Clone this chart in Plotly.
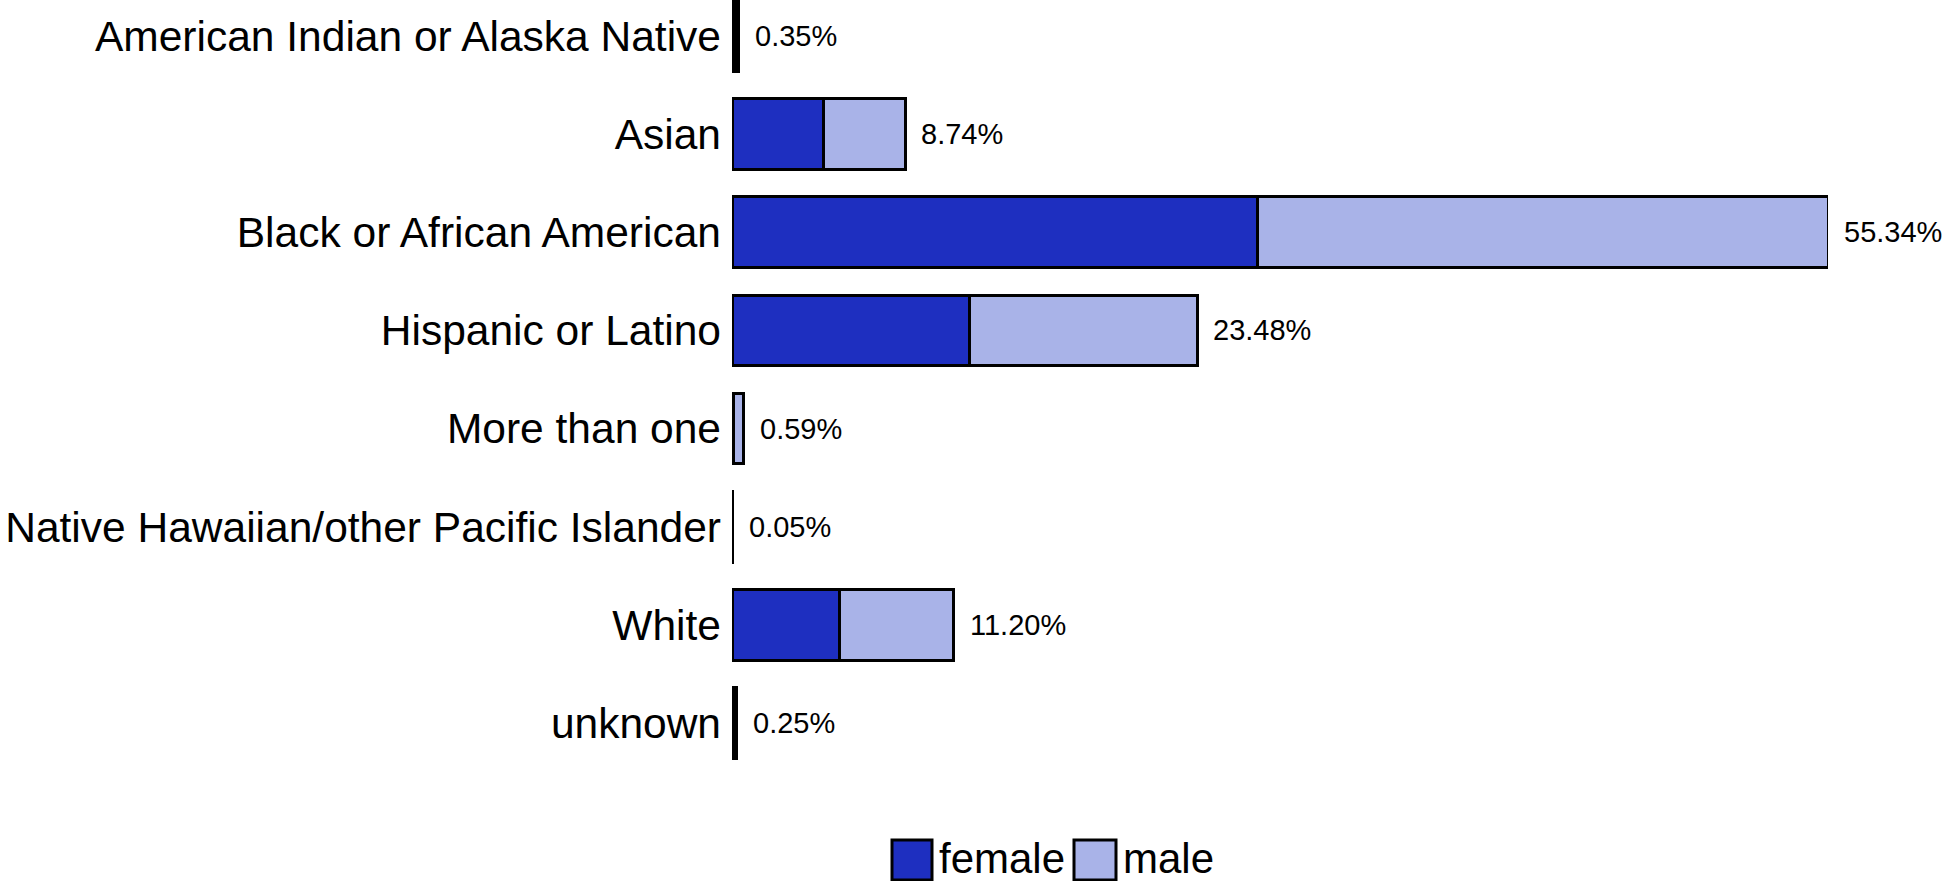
import plotly.graph_objects as go

categories = [
    "American Indian or Alaska Native",
    "Asian",
    "Black or African American",
    "Hispanic or Latino",
    "More than one",
    "Native Hawaiian/other Pacific Islander",
    "White",
    "unknown",
]
female = [0.20, 4.64, 26.51, 12.01, 0.10, 0.02, 5.45, 0.12]
male = [0.15, 4.10, 28.83, 11.47, 0.49, 0.03, 5.75, 0.13]

FEMALE_COLOR = "#1e2fc0"
MALE_COLOR = "#a9b3e8"
FONT = "Liberation Sans, Arial, sans-serif"

W, H = 1949, 881
ML, MR, MT, MB = 732, 121, 0, 109


def px_x(px):
    return (px - ML) / (W - ML - MR)


def px_y(py):
    return (H - MB - py) / (H - MT - MB)


fig = go.Figure()

fig.add_trace(
    go.Bar(
        y=categories,
        x=female,
        orientation="h",
        name="female",
        marker=dict(color=FEMALE_COLOR, line=dict(color="black", width=3)),
        showlegend=False,
    )
)

fig.add_trace(
    go.Bar(
        y=categories,
        x=male,
        orientation="h",
        name="male",
        marker=dict(color=MALE_COLOR, line=dict(color="black", width=3)),
        showlegend=False,
    )
)

# total labels at the end of each bar
for cat, f, m in zip(categories, female, male):
    total = f + m
    fig.add_annotation(
        x=total,
        y=cat,
        text=f"{total:.2f}%",
        showarrow=False,
        xanchor="left",
        xshift=14,
        font=dict(size=29, color="black", family=FONT),
    )

# hand drawn legend (big swatches)
legend_items = [("female", FEMALE_COLOR, 892, 932, 937), ("male", MALE_COLOR, 1074, 1116, 1121)]
for label, color, x0, x1, tx in legend_items:
    fig.add_shape(
        type="rect",
        xref="paper",
        yref="paper",
        x0=px_x(x0),
        x1=px_x(x1),
        y0=px_y(840),
        y1=px_y(880),
        fillcolor=color,
        line=dict(color="black", width=3),
    )
    fig.add_annotation(
        xref="paper",
        yref="paper",
        x=px_x(tx),
        y=px_y(858),
        text=label,
        showarrow=False,
        xanchor="left",
        yanchor="middle",
        font=dict(size=42, color="black", family=FONT),
    )

fig.update_layout(
    barmode="stack",
    bargap=0.28,
    width=W,
    height=H,
    margin=dict(l=ML, r=MR, t=MT, b=MB),
    plot_bgcolor="white",
    paper_bgcolor="white",
    showlegend=False,
    font=dict(family=FONT, color="black"),
)

fig.update_xaxes(
    range=[0, 55.34],
    showgrid=False,
    zeroline=False,
    showticklabels=False,
    showline=False,
    automargin=False,
)

fig.update_yaxes(
    type="category",
    categoryorder="array",
    categoryarray=categories,
    range=[7.5, -0.367],
    showgrid=False,
    zeroline=False,
    showline=False,
    ticks="",
    ticklabelstandoff=10,
    tickfont=dict(size=42.5, color="black", family=FONT),
    automargin=False,
)

fig.write_html(
    "out.html",
    config={"displayModeBar": False},
    post_script="document.body.style.margin='0';",
)
